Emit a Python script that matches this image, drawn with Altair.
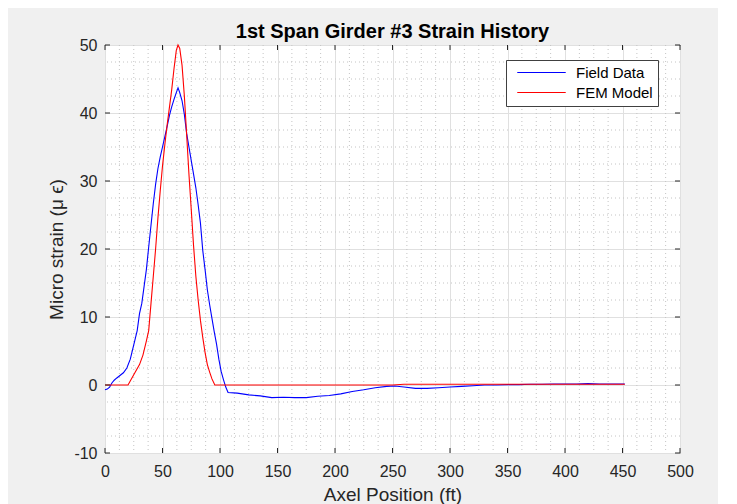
import altair as alt
import pandas as pd
import numpy as np

# ---------------- data ----------------
field_x = [0, 2, 4, 6, 8, 10, 13, 16, 19, 22, 24, 26, 28, 30, 32, 34, 36, 38, 40, 42,
           44, 46, 48, 50, 52, 54, 56, 58, 60, 62, 63.5, 65, 67, 69, 71, 73, 75, 77, 79, 81,
           83, 85, 87, 89, 91, 93, 95, 97, 99, 101, 103, 105, 107, 115, 125, 135, 145, 155,
           165, 175, 185, 195, 205, 215, 225, 235, 245, 252, 260, 270, 280, 290, 300, 310,
           320, 330, 340, 350, 360, 370, 380, 390, 400, 410, 420, 430, 440, 452]
field_y = [-0.7, -0.6, -0.3, 0.3, 0.7, 1.0, 1.4, 1.8, 2.5, 3.8, 5.2, 6.6, 8.0, 10.5, 12.0,
           14.5, 17.0, 20.3, 23.5, 26.7, 29.5, 31.8, 33.5, 35.0, 36.5, 38.0, 39.6, 40.9,
           42.0, 43.0, 43.7, 43.0, 41.8, 39.8, 37.0, 35.0, 33.0, 31.0, 29.0, 26.5, 23.8,
           19.8, 17.0, 14.0, 11.8, 9.8, 7.8, 6.0, 3.8, 2.0, 0.8, -0.3, -1.1, -1.2, -1.45,
           -1.6, -1.85, -1.8, -1.85, -1.85, -1.65, -1.55, -1.3, -0.95, -0.7, -0.4, -0.2,
           -0.15, -0.3, -0.5, -0.5, -0.4, -0.3, -0.2, -0.1, 0.0, 0.0, 0.05, 0.05, 0.1, 0.1,
           0.15, 0.15, 0.15, 0.2, 0.15, 0.15, 0.15]

fem_x = [0, 20, 25, 30, 33, 36, 38, 40, 42, 44, 46, 48, 50, 52, 54, 56, 58, 60, 62, 63.5,
         65, 67, 69, 71, 73, 75, 77, 79, 81, 83, 85, 87, 89, 91, 93, 95.5, 150, 250, 260,
         350, 452]
fem_y = [0, 0, 1.5, 3.0, 4.4, 6.5, 8.0, 12.0, 16.0, 20.0, 24.5, 28.5, 32.2, 35.3, 38.2,
         40.8, 43.4, 46.5, 49.2, 50.0, 49.5, 47.0, 42.5, 36.8, 31.0, 25.8, 20.5, 16.0, 12.5,
         9.5, 7.0, 4.8, 3.0, 1.9, 0.9, 0.0, 0.0, 0.0, 0.1, 0.1, 0.1]

series_names = ["Field Data", "FEM Model"]
series_colors = ["#0000ff", "#ff0000"]

x_ticks = [0, 50, 100, 150, 200, 250, 300, 350, 400, 450, 500]
y_ticks = [-10, 0, 10, 20, 30, 40, 50]

# ---------------- layout ----------------
W, H = 575, 408
FONT = "Liberation Sans"
INK = "#262626"
TICK = 5

df = pd.concat([
    pd.DataFrame({"x": field_x, "y": field_y, "series": series_names[0],
                  "order": range(len(field_x))}),
    pd.DataFrame({"x": fem_x, "y": fem_y, "series": series_names[1],
                  "order": range(len(fem_x))}),
])

minor_x = [float(v) for v in np.arange(0, 500.01, 12.5) if v % 50 != 0]
minor_y = [float(v) for v in np.arange(-10, 50.01, 2.5) if v % 10 != 0]

xs = alt.Scale(domain=[0, 500], nice=False, zero=False)
ys = alt.Scale(domain=[-10, 50], nice=False, zero=False)

x_axis = alt.Axis(
    values=x_ticks, title="Axel Position (ft)", grid=True, gridColor="#e0e0e0",
    ticks=False, tickSize=0, domain=False, labelExpr="'' + datum.value",
    labelFont=FONT, labelFontSize=16, labelColor=INK, labelPadding=10,
    labelFlush=False, labelOverlap=False,
    titleFont=FONT, titleFontSize=19, titleFontWeight="normal", titleColor=INK,
    titlePadding=6)
y_axis = alt.Axis(
    values=y_ticks, title="Micro strain (μ ϵ)", grid=True, gridColor="#e0e0e0",
    ticks=False, tickSize=0, domain=False, labelExpr="'' + datum.value",
    labelFont=FONT, labelFontSize=16, labelColor=INK, labelPadding=8,
    labelFlush=False, labelOverlap=False,
    titleFont=FONT, titleFontSize=19, titleFontWeight="normal", titleColor=INK,
    titlePadding=7)

minor_x_layer = alt.Chart(pd.DataFrame({"mx": minor_x})).mark_rule(
    color="#c4c4c4", strokeDash=[1, 3], strokeWidth=1
).encode(x=alt.X("mx:Q", scale=xs, axis=x_axis))

minor_y_layer = alt.Chart(pd.DataFrame({"my": minor_y})).mark_rule(
    color="#c4c4c4", strokeDash=[1, 3], strokeWidth=1
).encode(y=alt.Y("my:Q", scale=ys, axis=y_axis))

lines = alt.Chart(df).mark_line(strokeWidth=1.1, interpolate="linear").encode(
    x=alt.X("x:Q", scale=xs, axis=x_axis),
    y=alt.Y("y:Q", scale=ys, axis=y_axis),
    color=alt.Color("series:N", scale=alt.Scale(domain=series_names, range=series_colors),
                    legend=alt.Legend(
                        title=None, orient="none", legendX=401, legendY=15,
                        symbolType="M-3.73,0H3.73", symbolSize=169, symbolStrokeWidth=1,
                        symbolOffset=23, labelOffset=27, rowPadding=4, padding=5,
                        labelFont=FONT, labelFontSize=15, labelColor="#000000",
                        fillColor="white", strokeColor="#404040")),
    order=alt.Order("order:Q"),
)

xt = pd.DataFrame({"tx": x_ticks})
yt = pd.DataFrame({"ty": y_ticks})
tick_bottom = alt.Chart(xt).mark_rule(color=INK).encode(
    x=alt.X("tx:Q", scale=xs, axis=x_axis), y=alt.value(H), y2=alt.value(H - TICK))
tick_top = alt.Chart(xt).mark_rule(color=INK).encode(
    x=alt.X("tx:Q", scale=xs, axis=x_axis), y=alt.value(0), y2=alt.value(TICK))
tick_left = alt.Chart(yt).mark_rule(color=INK).encode(
    y=alt.Y("ty:Q", scale=ys, axis=y_axis), x=alt.value(0), x2=alt.value(TICK))
tick_right = alt.Chart(yt).mark_rule(color=INK).encode(
    y=alt.Y("ty:Q", scale=ys, axis=y_axis), x=alt.value(W), x2=alt.value(W - TICK))

chart = alt.layer(
    minor_x_layer, minor_y_layer, lines, tick_bottom, tick_top, tick_left, tick_right
).properties(
    width=W, height=H,
    title=alt.TitleParams("1st Span Girder #3 Strain History", font=FONT, fontSize=20,
                          fontWeight="bold", color="#000000", anchor="middle",
                          frame="group", offset=-5),
    padding={"left": 97, "top": 37, "right": 38, "bottom": 60},
    autosize=alt.AutoSizeParams(type="none"),
).configure(
    background="#f0f0f0",
).configure_view(
    fill="white", stroke=INK, strokeWidth=1,
)

chart.save("out.html", embed_options={"renderer": "svg", "actions": False})
